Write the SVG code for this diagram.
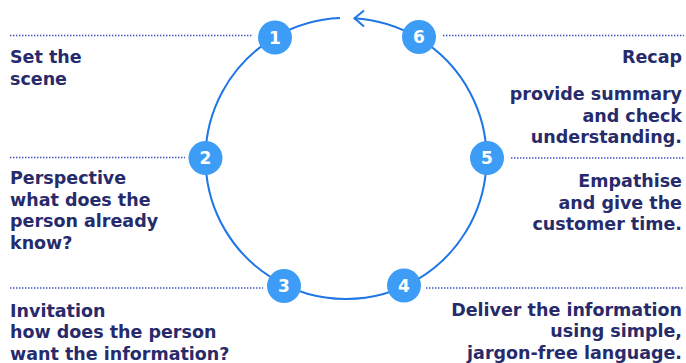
<svg xmlns="http://www.w3.org/2000/svg" width="686" height="363" viewBox="0 0 686 363">
<style>
.ring{fill:none;stroke:#1e76e6;stroke-width:2}
.dot{fill:none;stroke:#3b4fbf;stroke-width:1.6;stroke-dasharray:1.4 1.6}
.node{fill:#3d9cf6}
.num{font-family:"DejaVu Sans",sans-serif;font-weight:bold;font-size:17px;fill:#ffffff;text-anchor:middle}
.lbl{font-family:"DejaVu Sans",sans-serif;font-weight:bold;font-size:17.5px;fill:#272b6b}
.r{text-anchor:end}
</style>
<rect width="686" height="363" fill="#ffffff"/>
<g id="connectors">
<path class="ring" d="M 340 18.1 A 140.5 140.5 0 1 0 354 18.2"/>
<polyline class="ring" points="364,10.5 354.5,18.3 364,26.5"/>
<line class="dot" x1="10" y1="35.5" x2="252" y2="35.5"/>
<line class="dot" x1="443" y1="35.5" x2="684" y2="35.5"/>
<line class="dot" x1="10" y1="157.5" x2="185" y2="157.5"/>
<line class="dot" x1="511" y1="158" x2="684" y2="158"/>
<line class="dot" x1="10" y1="288" x2="263" y2="288"/>
<line class="dot" x1="426" y1="288" x2="684" y2="288"/>
</g>
<g id="node1">
<circle class="node" cx="275" cy="37.5" r="17"/>
<text class="num" x="275" y="43.5">1</text>
<text class="lbl" x="10"><tspan x="10" y="63">Set the</tspan><tspan x="10" y="85">scene</tspan></text>
</g>
<g id="node2">
<circle class="node" cx="205.5" cy="158" r="17"/>
<text class="num" x="205.5" y="164">2</text>
<text class="lbl"><tspan x="10" y="184">Perspective</tspan><tspan x="10" y="205.5">what does the</tspan><tspan x="10" y="227">person already</tspan><tspan x="10" y="248.5">know?</tspan></text>
</g>
<g id="node3">
<circle class="node" cx="284" cy="286" r="17"/>
<text class="num" x="284" y="292">3</text>
<text class="lbl"><tspan x="10" y="316.5">Invitation</tspan><tspan x="10" y="338">how does the person</tspan><tspan x="10" y="359.5">want the information?</tspan></text>
</g>
<g id="node4">
<circle class="node" cx="404" cy="285.5" r="17"/>
<text class="num" x="404" y="291.5">4</text>
<text class="lbl r"><tspan x="682" y="315.5">Deliver the information</tspan><tspan x="682" y="337">using simple,</tspan><tspan x="682" y="358.5">jargon-free language.</tspan></text>
</g>
<g id="node5">
<circle class="node" cx="487" cy="158" r="17"/>
<text class="num" x="487" y="164">5</text>
<text class="lbl r"><tspan x="682" y="187">Empathise</tspan><tspan x="682" y="208.5">and give the</tspan><tspan x="682" y="230">customer time.</tspan></text>
</g>
<g id="node6">
<circle class="node" cx="419" cy="37" r="17"/>
<text class="num" x="419" y="43">6</text>
<text class="lbl r"><tspan x="682" y="63">Recap</tspan><tspan x="682" y="100">provide summary</tspan><tspan x="682" y="121.5">and check</tspan><tspan x="682" y="143">understanding.</tspan></text>
</g>
</svg>
